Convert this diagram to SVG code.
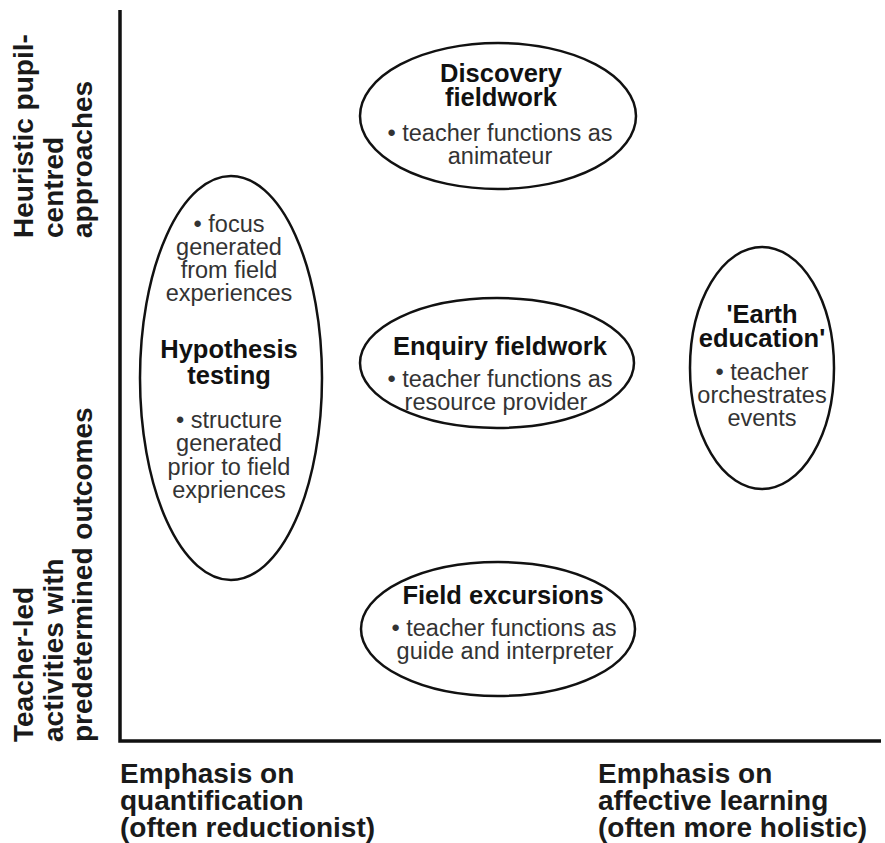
<svg xmlns="http://www.w3.org/2000/svg" width="885" height="843" viewBox="0 0 885 843">
<style>
.axis{fill:none;stroke:#111;stroke-width:3.5}
.ell{fill:none;stroke:#111;stroke-width:2.5}
.lab{font-family:"Liberation Sans",Arial,sans-serif;font-weight:bold;font-size:28px;fill:#1a1a1a}
.t{font-family:"Liberation Sans",Arial,sans-serif;font-weight:bold;font-size:25.5px;fill:#111;text-anchor:middle}
.b{font-family:"Liberation Sans",Arial,sans-serif;font-size:23.5px;fill:#333;text-anchor:middle}
</style>
<rect width="885" height="843" fill="#fff"/>
<g id="axes">
<path class="axis" d="M120,10 V741 H881"/>
</g>
<g id="y-axis-labels">
<g transform="translate(0,238) rotate(-90)">
<text class="lab" x="0" y="33">Heuristic pupil-</text>
<text class="lab" x="0" y="63">centred</text>
<text class="lab" x="0" y="92">approaches</text>
</g>
<g transform="translate(0,742) rotate(-90)">
<text class="lab" x="0" y="33">Teacher-led</text>
<text class="lab" x="0" y="63">activities with</text>
<text class="lab" x="0" y="92">predetermined outcomes</text>
</g>
</g>
<g id="x-axis-labels">
<text class="lab" x="120" y="783">Emphasis on</text>
<text class="lab" x="120" y="810">quantification</text>
<text class="lab" x="120" y="837">(often reductionist)</text>
<text class="lab" x="598" y="783">Emphasis on</text>
<text class="lab" x="598" y="810">affective learning</text>
<text class="lab" x="598" y="837">(often more holistic)</text>
</g>
<g id="discovery">
<ellipse class="ell" cx="498" cy="116" rx="138" ry="73"/>
<text class="t" x="501" y="82">Discovery</text>
<text class="t" x="501" y="106">fieldwork</text>
<text class="b" x="500" y="141">• teacher functions as</text>
<text class="b" x="500" y="164">animateur</text>
</g>
<g id="hypothesis">
<ellipse class="ell" cx="231" cy="378" rx="91" ry="202"/>
<text class="b" x="229" y="232">• focus</text>
<text class="b" x="229" y="255">generated</text>
<text class="b" x="229" y="278">from field</text>
<text class="b" x="229" y="301">experiences</text>
<text class="t" x="229" y="358">Hypothesis</text>
<text class="t" x="229" y="384">testing</text>
<text class="b" x="229" y="428">• structure</text>
<text class="b" x="229" y="451">generated</text>
<text class="b" x="229" y="475">prior to field</text>
<text class="b" x="229" y="498">expriences</text>
</g>
<g id="enquiry">
<ellipse class="ell" cx="497" cy="363" rx="137" ry="65"/>
<text class="t" x="500" y="355">Enquiry fieldwork</text>
<text class="b" x="500" y="387">• teacher functions as</text>
<text class="b" x="496" y="410">resource provider</text>
</g>
<g id="earth">
<ellipse class="ell" cx="762" cy="368" rx="72" ry="121"/>
<text class="t" x="762" y="323">'Earth</text>
<text class="t" x="762" y="347">education'</text>
<text class="b" x="762" y="380">• teacher</text>
<text class="b" x="762" y="403">orchestrates</text>
<text class="b" x="762" y="426">events</text>
</g>
<g id="excursions">
<ellipse class="ell" cx="498" cy="629" rx="137" ry="67"/>
<text class="t" x="503" y="604">Field excursions</text>
<text class="b" x="504" y="636">• teacher functions as</text>
<text class="b" x="505" y="659">guide and interpreter</text>
</g>
<g id="connectors"></g>
</svg>
